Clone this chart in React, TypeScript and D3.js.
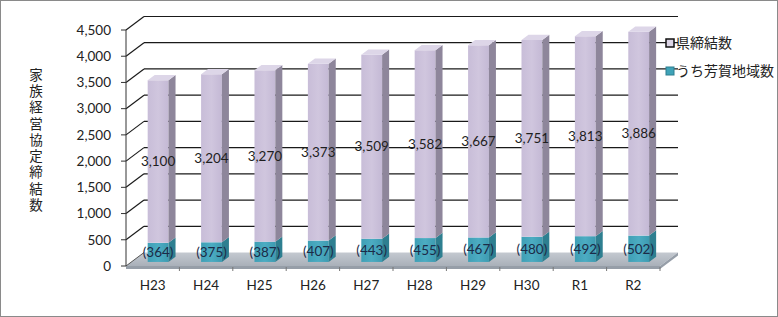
import React from 'react';
import * as d3 from 'd3';

const categories = ['H23', 'H24', 'H25', 'H26', 'H27', 'H28', 'H29', 'H30', 'R1', 'R2'];
const prefCounts = [3100, 3204, 3270, 3373, 3509, 3582, 3667, 3751, 3813, 3886];
const hagaCounts = [364, 375, 387, 407, 443, 455, 467, 480, 492, 502];
const yTicks = [0, 500, 1000, 1500, 2000, 2500, 3000, 3500, 4000, 4500];
const seriesNames = ['県締結数', 'うち芳賀地域数'];
const yTitle = '家族経営協定締結数';

const W = 778;
const H = 317;
const DX = 18;
const DY = -13.5;
const T0 = 0.3;
const T1 = 0.69;
const FONT = 'Lato, "Open Sans", sans-serif';
const JFONT = '"Noto Sans CJK JP", sans-serif';

export default function App() {
  const x = d3.scaleBand<string>().domain(categories).range([126, 660]).padding(0);
  const y = d3.scaleLinear().domain([0, 4500]).range([266, 30]);
  const fmt = d3.format(',');
  const bw = x.bandwidth() * 0.39;
  const y0 = y(0);
  const yMax = y(4500);

  const pt = (px: number, py: number, t: number) => `${px + DX * t},${py + DY * t}`;

  const box = (cx: number, v0: number, v1: number, front: string, side: string, top: string | null, key: string) => {
    const l = cx - bw / 2;
    const r = cx + bw / 2;
    const yb = y(v0);
    const yt = y(v1);
    return (
      <g key={key}>
        <polygon points={[pt(l, yt, T0), pt(r, yt, T0), pt(r, yb, T0), pt(l, yb, T0)].join(' ')} fill={front} />
        <polygon points={[pt(r, yt, T0), pt(r, yt, T1), pt(r, yb, T1), pt(r, yb, T0)].join(' ')} fill={side} />
        {top && (
          <polygon points={[pt(l, yt, T0), pt(r, yt, T0), pt(r, yt, T1), pt(l, yt, T1)].join(' ')} fill={top} />
        )}
      </g>
    );
  };

  return (
    <svg width={W} height={H} style={{ position: 'absolute', left: 0, top: 0, background: '#fff' }}>
      <defs>
        <linearGradient id="purpleFront" x1="0" x2="1" y1="0" y2="0">
          <stop offset="0" stopColor="#c8bdd8" />
          <stop offset="0.5" stopColor="#d0c6de" />
          <stop offset="1" stopColor="#c4b9d5" />
        </linearGradient>
        <linearGradient id="tealFront" x1="0" x2="1" y1="0" y2="0">
          <stop offset="0" stopColor="#3f9fb5" />
          <stop offset="0.5" stopColor="#4cacc2" />
          <stop offset="1" stopColor="#3d9bb1" />
        </linearGradient>
        <linearGradient id="floorGrad" x1="0" x2="0" y1="0" y2="1">
          <stop offset="0" stopColor="#c4c9d0" />
          <stop offset="1" stopColor="#a9b0b9" />
        </linearGradient>
      </defs>
      <rect x={0.5} y={0.5} width={W - 1} height={H - 1} fill="#fff" stroke="#8a8a8a" />

      {/* floor */}
      <polygon
        points={[pt(126, y0, 0), pt(660, y0, 0), pt(660, y0, 1), pt(126, y0, 1)].join(' ')}
        fill="url(#floorGrad)"
      />
      <polygon
        points={`126,${y0} 660,${y0} ${660 + DX},${y0 + DY} ${660 + DX},${y0 + DY + 3} 660,${y0 + 3} 126,${y0 + 3}`}
        fill="#969ea8"
      />

      {/* gridlines: back wall and left wall */}
      {yTicks.slice(1).map((t) => (
        <g key={'g' + t}>
          <line x1={126} y1={y(t)} x2={126 + DX} y2={y(t) + DY} stroke="#1a1a1a" strokeWidth={1.2} />
          <line x1={126 + DX} y1={y(t) + DY} x2={660 + DX} y2={y(t) + DY} stroke="#1a1a1a" strokeWidth={1.2} />
        </g>
      ))}
      <line x1={126} y1={y0} x2={126 + DX} y2={y0 + DY} stroke="#555" strokeWidth={1} />

      {/* y axis */}
      <line x1={126} y1={yMax} x2={126} y2={y0} stroke="#333" strokeWidth={1} />
      {yTicks.map((t) => (
        <g key={'t' + t}>
          <line x1={121} y1={y(t)} x2={126} y2={y(t)} stroke="#333" />
          <text x={111} y={y(t)} dy="0.35em" textAnchor="end" fontFamily={FONT} fontSize={13.5} fill="#222">
            {fmt(t)}
          </text>
        </g>
      ))}

      {/* x axis ticks & labels */}
      {categories.map((c, i) => (
        <g key={'x' + c}>
          {i > 0 && <line x1={x(c)!} y1={y0 + 1} x2={x(c)!} y2={y0 + 5} stroke="#777" />}
          <text x={x(c)! + x.bandwidth() / 2} y={285} dy="0.35em" textAnchor="middle" fontFamily={FONT} fontSize={13.5} fill="#222">
            {c}
          </text>
        </g>
      ))}
      <line x1={660} y1={y0 + 1} x2={660} y2={y0 + 5} stroke="#777" />

      {/* bars */}
      {categories.map((c, i) => {
        const cx = x(c)! + x.bandwidth() / 2;
        const h = hagaCounts[i];
        const p = prefCounts[i];
        return (
          <g key={'b' + c}>
            {box(cx, 0, h, 'url(#tealFront)', '#2e7f90', null, 'teal')}
            {box(cx, h, h + p, 'url(#purpleFront)', '#8e869b', '#ddd6e8', 'pur')}
          </g>
        );
      })}

      {/* labels */}
      {categories.map((c, i) => {
        const cx = x(c)! + x.bandwidth() / 2 + DX * T0;
        const h = hagaCounts[i];
        const p = prefCounts[i];
        return (
          <g key={'l' + c}>
            <text x={cx} y={y(h + p / 2) + DY * T0} dy="0.35em" textAnchor="middle" fontFamily={FONT} fontSize={13.5} fill="#1e1e1e">
              {fmt(p)}
            </text>
            <text x={cx} y={y(h / 2) + DY * T0} dy="0.35em" textAnchor="middle" fontFamily={FONT} fontSize={13.5} fill="#1b2b48">
              ({fmt(h)})
            </text>
          </g>
        );
      })}

      {/* y title (vertical) */}
      <text
        x={36}
        y={68}
        fontFamily={JFONT}
        fontSize={13.5}
        fill="#222"
        style={{ writingMode: 'vertical-rl', letterSpacing: '2.75px' } as React.CSSProperties}
      >
        {yTitle}
      </text>

      {/* legend */}
      {seriesNames.map((s, i) => (
        <g key={'lg' + i} transform={`translate(666,${43 + i * 28})`}>
          <rect x={0} y={-4} width={8} height={8} fill={i === 0 ? '#dcd5e6' : '#3fa3b8'} stroke={i === 0 ? '#111' : '#2e7f90'} strokeWidth={i === 0 ? 1.5 : 1} />
          <text x={10} y={0} dy="0.35em" fontFamily={JFONT} fontSize={14} fill="#222">
            {s}
          </text>
        </g>
      ))}
    </svg>
  );
}
